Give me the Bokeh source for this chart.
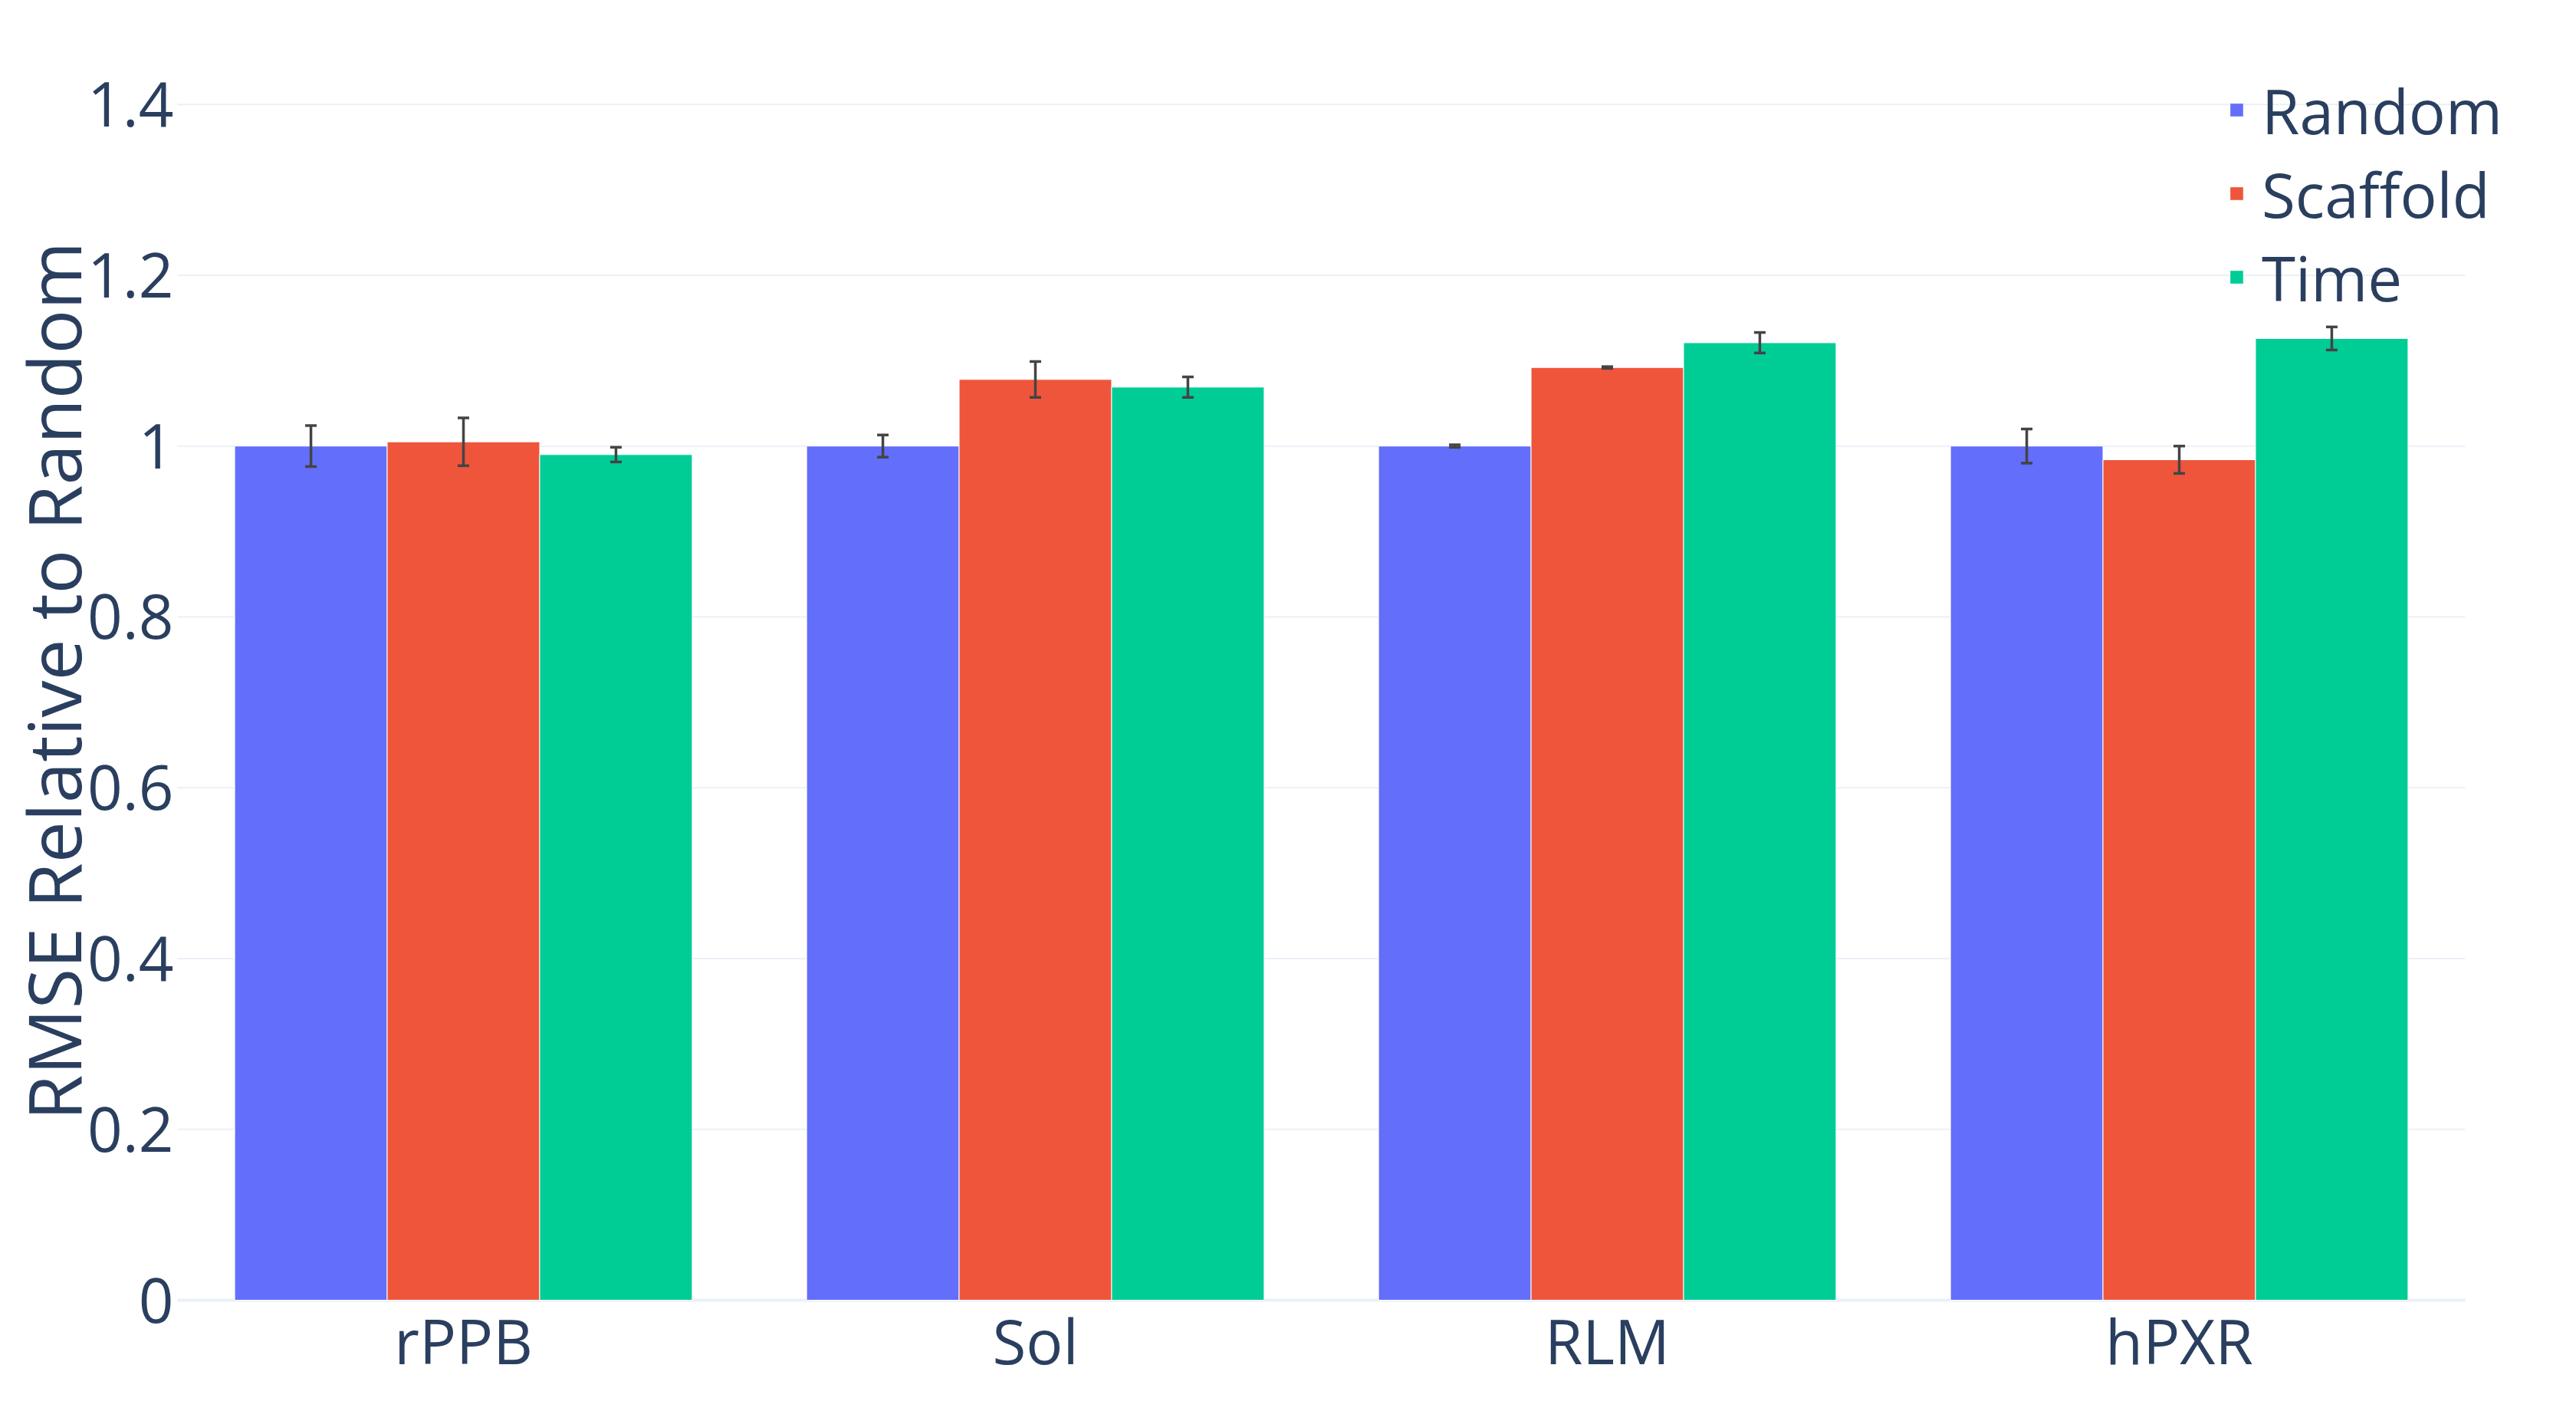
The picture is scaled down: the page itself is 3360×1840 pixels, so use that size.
from bokeh.plotting import figure
from bokeh.models import ColumnDataSource, Range1d, Whisker, TeeHead, Legend, LegendItem
from bokeh.core.properties import value
from bokeh.embed import file_html
from bokeh.resources import INLINE
import math

# ---- data ----
datasets = ["rPPB", "Sol", "RLM", "hPXR"]
splits = ["Random", "Scaffold", "Time"]
random_mean = [1.0, 1.0, 1.0, 1.0]
random_err = [0.024, 0.013, 0.0015, 0.020]
scaffold_mean = [1.005, 1.078, 1.092, 0.984]
scaffold_err = [0.028, 0.021, 0.001, 0.016]
time_mean = [0.990, 1.069, 1.121, 1.126]
time_err = [0.0086, 0.012, 0.012, 0.0135]
colors = ["#636efa", "#EF553B", "#00cc96"]
y_ticks = [0, 0.2, 0.4, 0.6, 0.8, 1.0, 1.2, 1.4]
y_tick_labels = ["0", "0.2", "0.4", "0.6", "0.8", "1", "1.2", "1.4"]
y_title = "RMSE Relative to Random"

# ---- layout (pixels) ----
W, H = 3344, 1824
PLOT_LEFT = 231          # x pixel where the category axis starts
PX_PER_CAT = 746         # pixel width of one category
ZERO_PX = 1695           # y pixel of value 0
TOP_PX = 80              # y pixel of the top of the value area
PX_PER_UNIT = 1113.8     # pixels per 1.0 on the value axis

FONT = "Open Sans"
TXT = "#2a3f5f"
GRID = "#EBF0F8"
ERR = "#444444"

n = len(datasets)
x_start = -PLOT_LEFT / PX_PER_CAT
x_end = (W - PLOT_LEFT) / PX_PER_CAT
y_start = -(H - ZERO_PX) / PX_PER_UNIT
y_end = ZERO_PX / PX_PER_UNIT

p = figure(x_range=Range1d(x_start, x_end), y_range=Range1d(y_start, y_end),
           width=W, height=H, output_backend="svg", toolbar_location=None,
           x_axis_location=None, y_axis_location=None,
           min_border_left=0, min_border_right=0, min_border_top=0, min_border_bottom=0)
p.outline_line_color = None
p.background_fill_color = "white"
p.xgrid.grid_line_color = None
p.ygrid.grid_line_color = None

# horizontal grid lines spanning the categories
grid_src = ColumnDataSource(dict(x0=[0] * len(y_ticks), x1=[n] * len(y_ticks),
                                 y=y_ticks, w=[4 if t == 0 else 2 for t in y_ticks]))
p.segment(x0="x0", x1="x1", y0="y", y1="y", line_width="w", line_color=GRID, source=grid_src)

# y tick labels
p.text(x=[0] * len(y_ticks), y=y_ticks, text=y_tick_labels, x_offset=-5,
       text_align="right", text_baseline="middle", text_font=value(FONT),
       text_font_size="80px", text_color=TXT)

# x category labels
p.text(x=[i + 0.5 for i in range(n)], y=[0] * n, text=datasets, y_offset=51.5,
       text_align="center", text_baseline="middle", text_font=value(FONT),
       text_font_size="80px", text_color=TXT)

bw = 0.8 / 3
offsets = [-bw, 0.0, bw]
means = [random_mean, scaffold_mean, time_mean]
errs = [random_err, scaffold_err, time_err]

legend_items = []
for name, m, e, c, off in zip(splits, means, errs, colors, offsets):
    xs = [i + 0.5 + off for i in range(n)]
    src = ColumnDataSource(dict(x=xs, top=m,
                                upper=[a + b for a, b in zip(m, e)],
                                lower=[a - b for a, b in zip(m, e)]))
    r = p.vbar(x="x", top="top", bottom=0, width=bw, source=src,
               fill_color=c, line_color="white", line_width=1)
    p.add_layout(Whisker(base="x", upper="upper", lower="lower", source=src,
                         line_color=ERR, line_width=3.5, level="overlay",
                         upper_head=TeeHead(size=15, line_color=ERR, line_width=3.5),
                         lower_head=TeeHead(size=15, line_color=ERR, line_width=3.5)))
    legend_items.append(LegendItem(label=name, renderers=[r]))

legend = Legend(items=legend_items, location=(2906, 1408.5), orientation="vertical",
                glyph_width=22, glyph_height=22, label_height=20, spacing=-1,
                padding=0, margin=0, label_standoff=22,
                border_line_alpha=0, background_fill_alpha=0,
                label_text_font=FONT, label_text_font_size="80px", label_text_color=TXT)
p.add_layout(legend)

# y axis title, centred on the value area
title_y = (ZERO_PX - (ZERO_PX + TOP_PX) / 2) / PX_PER_UNIT
p.text(x=[(67.5 - PLOT_LEFT) / PX_PER_CAT], y=[title_y],
       text=[y_title], angle=math.pi / 2, text_align="center", text_baseline="middle",
       text_font=value(FONT), text_font_size="96px", text_color=TXT)

open("out.html", "w").write(file_html(p, INLINE))
